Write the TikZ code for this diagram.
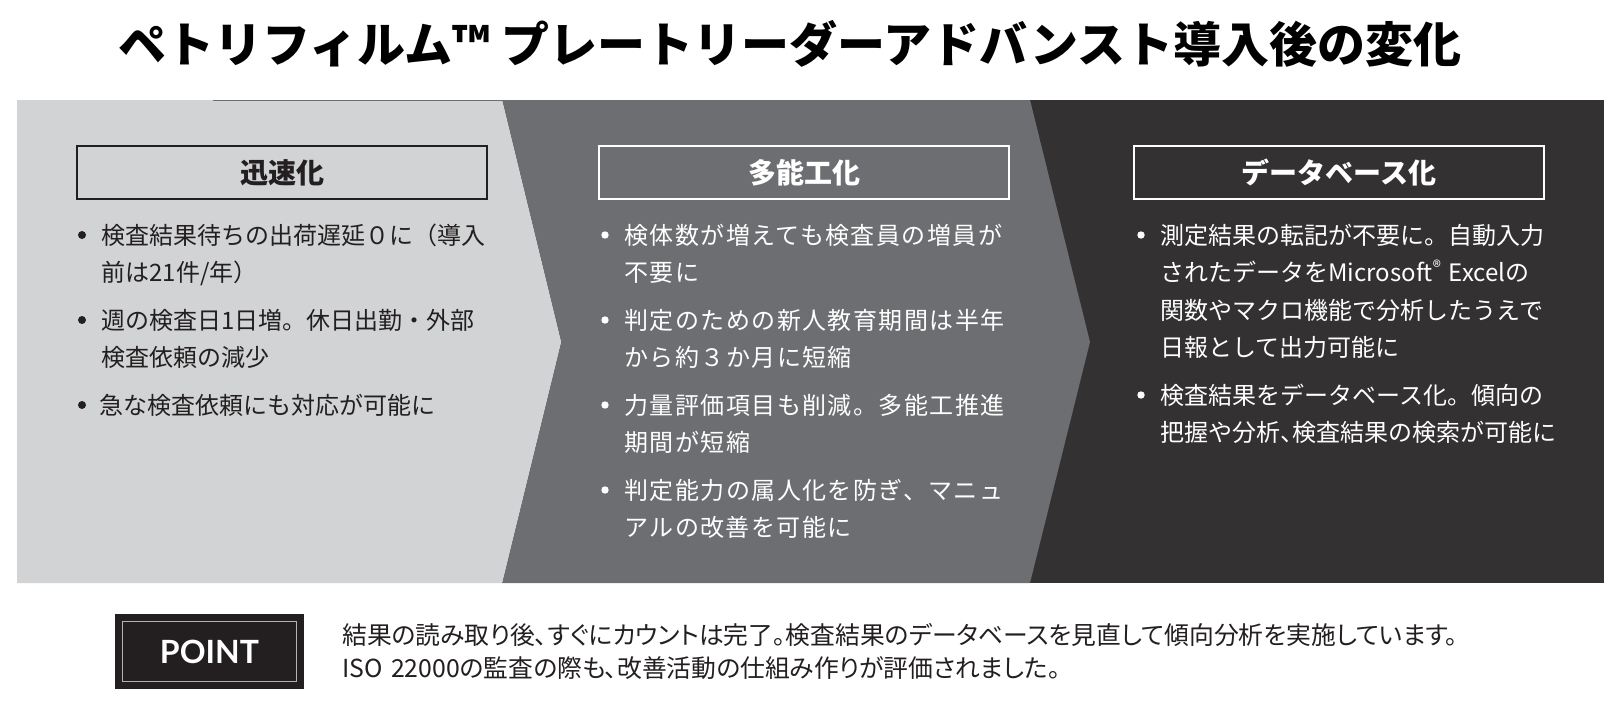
\documentclass[tikz,border=0pt]{standalone}
\usepackage{fontspec}
\setmainfont{Noto Sans CJK JP}
\newfontfamily\trackfont{Noto Sans CJK JP}[LetterSpace=6]
\newfontfamily\notefont{Noto Sans CJK JP}[RawFeature=+palt]
\newfontfamily\pointfont{Lato}
\usepackage{tikz}
\usetikzlibrary{calc,positioning}
\definecolor{lightpanel}{HTML}{D1D3D4}
\definecolor{midpanel}{HTML}{6D6E71}
\definecolor{darkpanel}{HTML}{333132}
\definecolor{inkdark}{HTML}{231F20}

\begin{document}
\begin{tikzpicture}[x=0.5pt,y=-0.5pt,
  heading/.style={draw,line width=0.8pt,minimum width=205pt,minimum height=26.5pt,inner sep=0pt,font=\fontsize{14}{16}\selectfont\bfseries},
  item/.style={anchor=base west,inner sep=0pt,text width=240pt,align=left,font=\fontsize{12}{18.75}\selectfont}]
\useasboundingbox (0,0) rectangle (1622,712);

% title
\node[font=\fontsize{24}{28}\selectfont\bfseries] (title) at (790,44) {ペトリフィルム™ プレートリーダーアドバンスト導入後の変化};

% band with chevrons
\fill[darkpanel] (1030,100) rectangle (1604,583);
\fill[midpanel] (502,100) -- (1030,100) -- (1090,342) -- (1030,583) -- (502,583) -- (561,342) -- cycle;
\fill[lightpanel] (17,100) -- (502,100) -- (561,342) -- (502,583) -- (17,583) -- cycle;
\draw[midpanel,line width=0.5pt] (213,100) -- (1030,100);

% headings
\node[heading,draw=inkdark,text=inkdark] (speed) at (282,172.5) {迅速化};
\node[heading,draw=white,text=white] (multi) at (804,172.5) {多能工化};
\node[heading,draw=white,text=white] (base) at (1339,172.5) {データベース化};

% left column
\node[item,text=inkdark] (s1) at (101,244) {検査結果待ちの出荷遅延０に（導入\\前は21件/年）};
\node[item,text=inkdark] (s2) at (101,329) {週の検査日1日増。休日出勤・外部\\検査依頼の減少};
\node[item,text=inkdark] (s3) at (99,414) {急な検査依頼にも対応が可能に};
\fill[inkdark] ($(s1.base west)+(-19,-9)$) circle (4);
\fill[inkdark] ($(s2.base west)+(-19,-9)$) circle (4);
\fill[inkdark] ($(s3.base west)+(-17,-9)$) circle (4);

% middle column
\node[item,text=white,font=\trackfont\fontsize{12}{18.75}\selectfont] (m1) at (624,244) {検体数が増えても検査員の増員が\\不要に};
\node[item,text=white,font=\trackfont\fontsize{12}{18.75}\selectfont] (m2) at (624,329) {判定のための新人教育期間は半年\\から約３か月に短縮};
\node[item,text=white,font=\trackfont\fontsize{12}{18.75}\selectfont] (m3) at (624,414) {力量評価項目も削減。多能工推進\\期間が短縮};
\node[item,text=white,font=\trackfont\fontsize{12}{18.75}\selectfont] (m4) at (624,499) {判定能力の属人化を防ぎ、マニュ\\アルの改善を可能に};
\fill[white] ($(m1.base west)+(-19,-9)$) circle (3.7);
\fill[white] ($(m2.base west)+(-19,-9)$) circle (3.7);
\fill[white] ($(m3.base west)+(-19,-9)$) circle (3.7);
\fill[white] ($(m4.base west)+(-19,-9)$) circle (3.7);

% right column
\node[item,text=white] (d1) at (1160,244) {測定結果の転記が不要に。自動入力\\されたデータをMicrosoft\raisebox{0.6ex}{\fontsize{8.5}{9}\selectfont ®} Excelの\\関数やマクロ機能で分析したうえで\\日報として出力可能に};
\node[item,text=white] (d2) at (1160,404) {検査結果をデータベース化。傾向の\\把握や分析、\kern-0.5em検査結果の検索が可能に};
\fill[white] ($(d1.base west)+(-19,-9)$) circle (3.7);
\fill[white] ($(d2.base west)+(-19,-9)$) circle (3.7);

% point
\node[fill=inkdark,minimum width=94.5pt,minimum height=37.5pt,inner sep=0pt] (point) at (209.5,651.5) {};
\node[draw=gray!60,line width=0.5pt,minimum width=87pt,minimum height=30pt,inner sep=0pt,text=white,font=\pointfont\bfseries\fontsize{16}{18}\selectfont] (pointtag) at (point) {POINT};
\node[anchor=base west,inner sep=0pt,text width=620pt,align=left,text=inkdark,font=\notefont\fontsize{12.4}{16.5}\selectfont] (note) at (342,644) {結果の読み取り後、すぐにカウントは完了。検査結果のデータベースを見直して傾向分析を実施しています。\\ISO 22000の監査の際も、改善活動の仕組み作りが評価されました。};
\end{tikzpicture}
\end{document}
